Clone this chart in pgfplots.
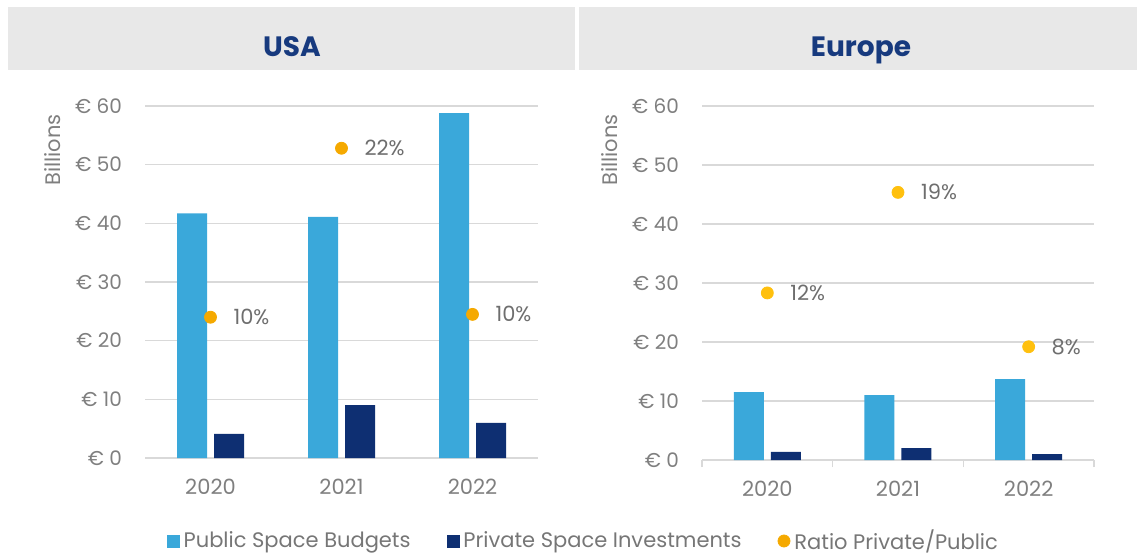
\documentclass[border=0pt]{standalone}
\usepackage{fontspec}
\setmainfont{Poppins}
\usepackage{pgfplots}
\pgfplotsset{compat=1.18}
\definecolor{pub}{HTML}{3AA8DA}
\definecolor{priv}{HTML}{0E2F72}
\definecolor{ttl}{HTML}{173A7E}
\definecolor{dotU}{HTML}{F5A900}
\definecolor{dotE}{HTML}{FFC00E}
\definecolor{tickc}{HTML}{7F7F7F}
\definecolor{lblc}{HTML}{6E6E6E}
\definecolor{legc}{HTML}{767676}
\definecolor{gridc}{HTML}{D9D9D9}
\definecolor{hdr}{HTML}{E8E8E8}
\pgfplotsset{
  barbase/.style={
    scale only axis, xmin=-0.5, xmax=2.5, ymin=0, ymax=60,
    ybar=3.5pt, bar width=15pt,
    separate axis lines,
    y axis line style={draw=none},
    x axis line style={draw=gridc, line width=0.75pt},
    ymajorgrids, grid style={gridc, line width=0.75pt},
    ytick={0,10,20,30,40,50,60},
    yticklabels={€ 0,€ 10,€ 20,€ 30,€ 40,€ 50,€ 60},
    xtick={0,1,2}, xticklabels={2020,2021,2022},
    major tick length=0pt,
    xtick pos=bottom, ytick pos=left,
    tick label style={text=tickc},
    yticklabel style={font=\fontsize{10}{12}\selectfont, xshift=-8pt},
    xticklabel style={font=\fontsize{10.5}{12}\selectfont, yshift=-7pt},
    clip=false,
  },
  ratiobase/.style={
    scale only axis, xmin=-0.5, xmax=2.5, ymin=0, ymax=25,
    hide axis, clip=false,
  },
  dotlbl/.style={point meta=explicit symbolic, nodes near coords,
    nodes near coords style={anchor=west, xshift=8pt, text=lblc, font=\fontsize{10.5}{12}\selectfont}},
}
\begin{document}
\begin{tikzpicture}[x=1pt,y=1pt]
\useasboundingbox (0,0) rectangle (568.5,277);
\fill[hdr] (4,242) rectangle (287.5,273.5);
\fill[hdr] (289.5,242) rectangle (568.5,273.5);
\node[font=\fontsize{14}{16}\selectfont\bfseries, text=ttl, anchor=base] at (146,249) {USA};
\node[font=\fontsize{14}{16}\selectfont\bfseries, text=ttl, anchor=base] at (430.5,249) {Europe};

% USA
\begin{axis}[barbase, at={(72.5pt,48pt)}, anchor=south west, width=196.5pt, height=176pt]
\addplot[fill=pub, draw=none] coordinates {(0,41.7) (1,41.1) (2,58.8)};
\addplot[fill=priv, draw=none] coordinates {(0,4.1) (1,9.0) (2,6.0)};
\node[rotate=90, font=\fontsize{10.5}{12}\selectfont, text=tickc] at (rel axis cs:-0.234,0.875) {Billions};
\end{axis}
\begin{axis}[ratiobase, at={(72.5pt,48pt)}, anchor=south west, width=196.5pt, height=176pt]
\addplot[only marks, mark=*, mark size=3pt, color=dotU, dotlbl] coordinates {(0,10.0) [10\%] (1,22.0) [22\%] (2,10.2) [10\%]};
\end{axis}

% Europe
\begin{axis}[barbase, at={(351pt,47pt)}, anchor=south west, width=196pt, height=177pt,
  minor xtick={-0.5,0.5,1.5,2.5}, minor tick length=3.5pt, xtick align=outside,
  minor tick style={draw=gridc, line width=0.75pt}]
\addplot[fill=pub, draw=none] coordinates {(0,11.5) (1,11.0) (2,13.7)};
\addplot[fill=priv, draw=none] coordinates {(0,1.36) (1,2.0) (2,1.0)};
\node[rotate=90, font=\fontsize{10.5}{12}\selectfont, text=tickc] at (rel axis cs:-0.235,0.876) {Billions};
\end{axis}
\begin{axis}[ratiobase, at={(351pt,47pt)}, anchor=south west, width=196pt, height=177pt,
  legend columns=3,
  legend style={at={(-0.300,-0.2288)}, anchor=center, draw=none, fill=none,
    font=\fontsize{10.5}{12}\selectfont, text=legc,
    /tikz/every even column/.append style={column sep=16pt}}]
\addlegendimage{legend image code/.code={\fill[pub] (0pt,-3pt) rectangle (6pt,3pt);}}
\addlegendentry{Public Space Budgets}
\addlegendimage{legend image code/.code={\fill[priv] (0pt,-3pt) rectangle (6pt,3pt);}}
\addlegendentry{Private Space Investments}
\addplot[only marks, mark=*, mark size=3pt, color=dotE, dotlbl,
  legend image code/.code={\fill[dotU] (2.5pt,0pt) circle (3pt);}] coordinates {(0,11.8) [12\%] (1,18.9) [19\%] (2,8.0) [8\%]};
\addlegendentry{Ratio Private/Public}
\end{axis}
\end{tikzpicture}
\end{document}
